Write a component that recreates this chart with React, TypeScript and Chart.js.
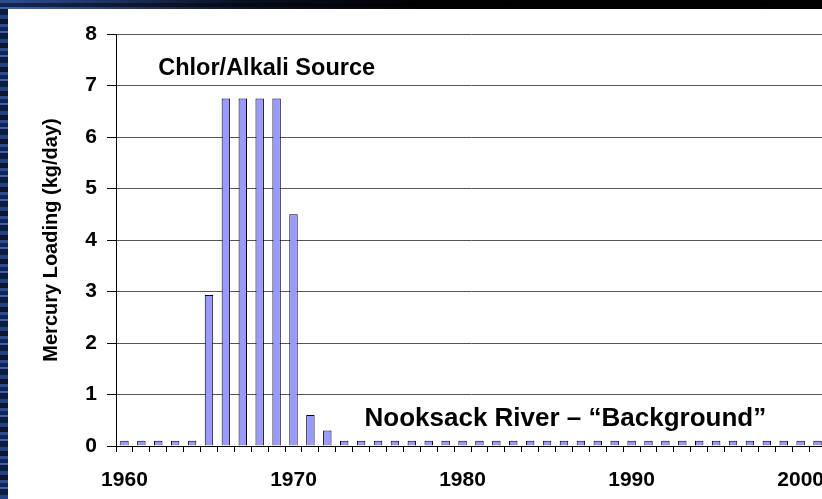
import React, { useEffect, useRef } from "react";
import { Chart, registerables } from "chart.js";

Chart.register(...registerables);

const years: number[] = [
  1960, 1961, 1962, 1963, 1964, 1965, 1966, 1967, 1968, 1969,
  1970, 1971, 1972, 1973, 1974, 1975, 1976, 1977, 1978, 1979,
  1980, 1981, 1982, 1983, 1984, 1985, 1986, 1987, 1988, 1989,
  1990, 1991, 1992, 1993, 1994, 1995, 1996, 1997, 1998, 1999,
  2000, 2001,
];

const mercuryLoading: number[] = [
  0.1, 0.1, 0.1, 0.1, 0.1, 2.93, 6.75, 6.75, 6.75, 6.75,
  4.5, 0.6, 0.3, 0.1, 0.1, 0.1, 0.1, 0.1, 0.1, 0.1,
  0.1, 0.1, 0.1, 0.1, 0.1, 0.1, 0.1, 0.1, 0.1, 0.1,
  0.1, 0.1, 0.1, 0.1, 0.1, 0.1, 0.1, 0.1, 0.1, 0.1,
  0.1, 0.1,
];

const yTicks: number[] = [0, 1, 2, 3, 4, 5, 6, 7, 8];
const yAxisTitle = "Mercury Loading (kg/day)";

const annotationTexts: string[] = ["Chlor/Alkali Source", "Nooksack River \u2013 \u201cBackground\u201d"];
const annotationIndex: number[] = [2, 14.2];
const annotationValue: number[] = [7.2, 0.39];
const annotationFontSize: number[] = [23.5, 26];

const FONT = "Arial, 'Liberation Sans', sans-serif";

const annotationPlugin = {
  id: "textAnnotations",
  afterDatasetsDraw(chart: any) {
    const ctx = chart.ctx;
    const xs = chart.scales.x;
    const ys = chart.scales.y;
    ctx.save();
    ctx.fillStyle = "#000";
    ctx.textAlign = "left";
    ctx.textBaseline = "alphabetic";
    annotationTexts.forEach((t, i) => {
      ctx.font = `bold ${annotationFontSize[i]}px ${FONT}`;
      ctx.fillText(t, xs.getPixelForValue(annotationIndex[i]), ys.getPixelForValue(annotationValue[i]));
    });
    ctx.restore();
  },
};

export default function App() {
  const ref = useRef<HTMLCanvasElement | null>(null);

  useEffect(() => {
    const b = document.body.style;
    b.margin = "9px 0 0 8px";
    b.overflow = "hidden";
    b.backgroundColor = "#1c3268";
    b.backgroundImage =
      "linear-gradient(to right, rgba(0,0,0,0) 0px, rgba(0,0,0,0) 12px, rgba(2,4,10,0.85) 250px, rgba(0,0,0,0.97) 420px), " +
      "repeating-linear-gradient(to bottom, #2b4b90 0px, #2b4b90 3px, #132552 3px, #132552 7px, #3d62ad 7px, #3d62ad 9px, #0e1c3e 9px, #0e1c3e 15px, #24417f 15px, #24417f 19px, #0a1634 19px, #0a1634 24px)";

    if (!ref.current) return;
    const chart = new Chart(ref.current, {
      type: "bar",
      data: {
        labels: years.map(String),
        datasets: [
          {
            data: mercuryLoading,
            backgroundColor: "#9999ff",
            borderColor: "#000000",
            borderWidth: 1,
            barPercentage: 0.5,
            categoryPercentage: 1,
          },
        ],
      },
      options: {
        animation: false,
        responsive: false,
        devicePixelRatio: 1,
        layout: { padding: { left: 27, top: 25, right: 0, bottom: 0 } },
        plugins: {
          legend: { display: false },
          tooltip: { enabled: false },
        },
        scales: {
          x: {
            type: "category",
            offset: true,
            afterFit: (s: any) => {
              s.height = 53;
              s.paddingLeft = 0;
              s.paddingRight = 0;
            },
            grid: {
              display: true,
              offset: true,
              drawOnChartArea: false,
              drawTicks: true,
              tickLength: 6,
              color: "#000",
            },
            border: { display: true, color: "#000", width: 1 },
            ticks: {
              autoSkip: false,
              maxRotation: 0,
              minRotation: 0,
              padding: 16,
              color: "#000",
              font: { family: FONT, size: 21, weight: "bold" },
              callback: (_v: any, i: number) => (years[i] % 10 === 0 ? String(years[i]) : ""),
            },
          },
          y: {
            min: yTicks[0],
            max: yTicks[yTicks.length - 1],
            afterFit: (s: any) => {
              s.width = 81;
            },
            afterBuildTicks: (s: any) => {
              s.ticks = yTicks.map((v) => ({ value: v }));
            },
            grid: {
              color: "#555",
              tickColor: "#000",
              tickLength: 9,
            },
            border: { display: true, color: "#000", width: 1 },
            ticks: {
              padding: 10,
              color: "#000",
              font: { family: FONT, size: 21, weight: "bold" },
            },
            title: {
              display: true,
              text: yAxisTitle,
              color: "#000",
              padding: { top: 4, bottom: 4 },
              font: { family: FONT, size: 20, weight: "bold" },
            },
          },
        },
      },
      plugins: [annotationPlugin],
    } as any);
    return () => chart.destroy();
  }, []);

  return (
    <div style={{ width: 814, height: 490, overflow: "hidden", background: "#fff" }}>
      <canvas ref={ref} width={818} height={490} style={{ display: "block" }} />
    </div>
  );
}
